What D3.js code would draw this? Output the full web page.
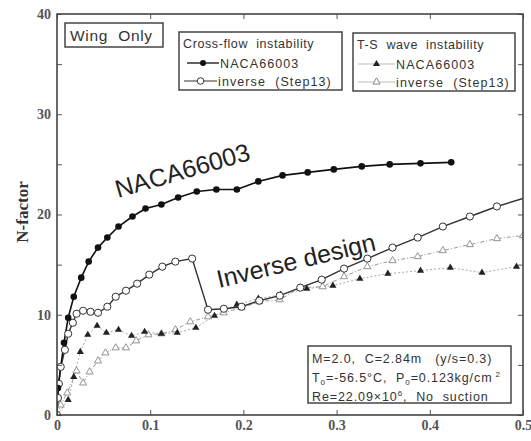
<!DOCTYPE html>
<html>
<head>
<meta charset="utf-8">
<script src="https://cdn.jsdelivr.net/npm/d3@7"></script>
<style>
body { margin: 0; background: #fff; }
svg text { font-family: "Liberation Sans", Arial, sans-serif; white-space: pre; }
</style>
</head>
<body>
<div id="chart"></div>
<script>
// cross-flow, NACA66003 (filled circles)
var cfNacaX = [0, 0.001, 0.0075, 0.012, 0.018, 0.026, 0.034, 0.044, 0.054, 0.066, 0.081, 0.095, 0.112, 0.13, 0.15, 0.171, 0.193, 0.216, 0.242, 0.269, 0.297, 0.327, 0.357, 0.39, 0.423];
var cfNacaN = [0, 2.7, 7.2, 9.7, 11.8, 13.7, 15.3, 16.7, 17.7, 18.8, 19.8, 20.6, 21.0, 21.7, 22.3, 22.5, 22.5, 23.3, 23.9, 24.2, 24.5, 24.8, 25.0, 25.1, 25.2];
// cross-flow, inverse (open circles)
var cfInvX = [0, 0.001, 0.002, 0.004, 0.0085, 0.012, 0.017, 0.021, 0.028, 0.036, 0.044, 0.054, 0.063, 0.074, 0.086, 0.099, 0.113, 0.127, 0.145, 0.162, 0.179, 0.198, 0.217, 0.239, 0.261, 0.284, 0.308, 0.333, 0.36, 0.387, 0.414, 0.443, 0.472, 0.5];
var cfInvN = [0, 1.7, 3.1, 4.8, 6.5, 8.1, 9.2, 10.1, 10.4, 10.3, 10.2, 10.8, 11.8, 12.4, 13.1, 14.0, 14.8, 15.3, 15.6, 10.5, 10.6, 10.8, 11.4, 11.9, 12.7, 13.5, 14.6, 15.6, 16.7, 17.7, 18.8, 19.8, 20.8, 21.6];
// T-S wave, NACA66003 (filled triangles)
var tsNacaX = [0, 0.012, 0.018, 0.025, 0.033, 0.043, 0.053, 0.066, 0.08, 0.094, 0.112, 0.129, 0.149, 0.169, 0.193, 0.216, 0.24, 0.268, 0.296, 0.325, 0.355, 0.39, 0.422, 0.456, 0.493];
var tsNacaN = [0, 1.5, 3.8, 6.3, 8.0, 8.9, 8.2, 8.5, 7.9, 8.3, 8.1, 8.2, 8.7, 9.9, 11.0, 11.6, 12.0, 12.6, 12.9, 13.6, 14.1, 14.4, 14.7, 14.2, 14.8];
// T-S wave, inverse (open triangles)
var tsInvX = [0, 0.004, 0.011, 0.021, 0.028, 0.035, 0.044, 0.052, 0.063, 0.074, 0.085, 0.098, 0.112, 0.127, 0.143, 0.162, 0.179, 0.198, 0.217, 0.239, 0.261, 0.285, 0.308, 0.333, 0.36, 0.387, 0.414, 0.443, 0.472, 0.5];
var tsInvN = [0, 1.0, 2.2, 4.4, 3.2, 4.3, 5.4, 6.2, 6.7, 6.7, 7.4, 8.0, 8.1, 8.5, 9.3, 9.8, 10.2, 10.7, 11.3, 11.5, 12.7, 12.8, 13.8, 14.8, 15.4, 15.8, 16.4, 17.0, 17.6, 17.9];

var xTicks = [0, 0.1, 0.2, 0.3, 0.4, 0.5];
var xTickLabels = ["0", "0.1", "0.2", "0.3", "0.4", "0.5"];
var yTicks = [0, 10, 20, 30, 40];
var yMinor = [5, 15, 25, 35];

var W = 531, H = 441;
var svg = d3.select("#chart").append("svg").attr("width", W).attr("height", H);

var x = d3.scaleLinear().domain([0, 0.5]).range([57, 523]);
var y = d3.scaleLinear().domain([0, 40]).range([415, 14]);

function pts(xs, ns) { return xs.map(function(v, i) { return [v, ns[i]]; }); }
var line = d3.line().x(function(d) { return x(d[0]); }).y(function(d) { return y(d[1]); });

svg.append("clipPath").attr("id", "clip").append("rect")
    .attr("x", 57).attr("y", 14).attr("width", 466).attr("height", 401);

var plot = svg.append("g").attr("clip-path", "url(#clip)");

// ticks (inward, all four sides)
var axisCol = "#555";
var axB = svg.append("g").attr("transform", "translate(0,415)")
    .call(d3.axisBottom(x).tickValues(xTicks).tickSize(-5).tickFormat(function(d, i) { return xTickLabels[i]; }).tickPadding(5));
var axT = svg.append("g").attr("transform", "translate(0,14)")
    .call(d3.axisTop(x).tickValues(xTicks).tickSize(-5).tickFormat(""));
var axL = svg.append("g").attr("transform", "translate(57,0)")
    .call(d3.axisLeft(y).tickValues(yTicks.concat(yMinor)).tickSize(-5)
        .tickFormat(function(d) { return yTicks.indexOf(d) >= 0 ? d : ""; }).tickPadding(6));
var axR = svg.append("g").attr("transform", "translate(523,0)")
    .call(d3.axisRight(y).tickValues(yTicks.concat(yMinor)).tickSize(-5).tickFormat(""));
[axB, axT, axL, axR].forEach(function(a) {
    a.select(".domain").remove();
    a.selectAll(".tick line").attr("stroke", axisCol).attr("stroke-width", 1);
    a.selectAll("text").attr("fill", "#555").style("font-family", "'Liberation Serif', 'Times New Roman', serif")
        .style("font-weight", "bold").style("font-size", "14px");
});

svg.append("rect").attr("x", 57).attr("y", 14).attr("width", 466).attr("height", 401)
    .attr("fill", "none").attr("stroke", "#444").attr("stroke-width", 1.6);

// T-S lines (gray, dotted)
plot.append("path").datum(pts(tsNacaX, tsNacaN)).attr("d", line)
    .attr("fill", "none").attr("stroke", "#aaa").attr("stroke-width", 1).attr("stroke-dasharray", "2,2");
plot.append("path").datum(pts(tsInvX, tsInvN)).attr("d", line)
    .attr("fill", "none").attr("stroke", "#999").attr("stroke-width", 1).attr("stroke-dasharray", "4,2,1,2");

var tri = d3.symbol().type(d3.symbolTriangle).size(22);
plot.selectAll(".tsInv").data(pts(tsInvX, tsInvN).filter(function(d) { return d[0] > 0; }))
    .enter().append("path").attr("d", tri)
    .attr("transform", function(d) { return "translate(" + x(d[0]) + "," + y(d[1]) + ")"; })
    .attr("fill", "#fff").attr("stroke", "#888").attr("stroke-width", 0.9);
plot.selectAll(".tsNaca").data(pts(tsNacaX, tsNacaN).filter(function(d) { return d[0] > 0; }))
    .enter().append("path").attr("d", tri)
    .attr("transform", function(d) { return "translate(" + x(d[0]) + "," + y(d[1]) + ")"; })
    .attr("fill", "#222");

// cross-flow lines (black, solid)
plot.append("path").datum(pts(cfInvX, cfInvN)).attr("d", line)
    .attr("fill", "none").attr("stroke", "#333").attr("stroke-width", 1.4);
plot.append("path").datum(pts(cfNacaX, cfNacaN)).attr("d", line)
    .attr("fill", "none").attr("stroke", "#111").attr("stroke-width", 1.6);

plot.selectAll(".cfInv").data(pts(cfInvX, cfInvN).filter(function(d) { return d[0] < 0.5; }))
    .enter().append("circle")
    .attr("cx", function(d) { return x(d[0]); }).attr("cy", function(d) { return y(d[1]); })
    .attr("r", 3.6).attr("fill", "#fff").attr("stroke", "#333").attr("stroke-width", 1);
plot.selectAll(".cfNaca").data(pts(cfNacaX, cfNacaN).filter(function(d) { return d[0] > 0; }))
    .enter().append("circle")
    .attr("cx", function(d) { return x(d[0]); }).attr("cy", function(d) { return y(d[1]); })
    .attr("r", 3.3).attr("fill", "#111");

// annotations
svg.append("text").attr("transform", "translate(118,198) rotate(-16)")
    .attr("font-size", 25).attr("fill", "#222").text("NACA66003");
svg.append("text").attr("transform", "translate(219,288) rotate(-13.5)")
    .attr("font-size", 25).attr("fill", "#222").text("Inverse design");

// y label
svg.append("text").attr("transform", "translate(28,212) rotate(-90)")
    .attr("text-anchor", "middle").style("font-family", "'Liberation Serif', 'Times New Roman', serif")
    .style("font-weight", "bold").attr("font-size", 17).attr("fill", "#333").text("N-factor");

// Wing Only box
svg.append("rect").attr("x", 65).attr("y", 23).attr("width", 98).attr("height", 24)
    .attr("fill", "#fff").attr("stroke", "#444").attr("stroke-width", 1.5);
svg.append("text").attr("x", 70).attr("y", 41).attr("font-size", 15.5).attr("letter-spacing", 0.7)
    .attr("fill", "#333").text("Wing  Only");

// legends
function legend(x0, y0, w, title, items) {
    var g = svg.append("g");
    g.append("rect").attr("x", x0).attr("y", y0).attr("width", w).attr("height", 58)
        .attr("fill", "#fff").attr("stroke", "#444").attr("stroke-width", 1.5);
    g.append("text").attr("x", x0 + 4).attr("y", y0 + 16).attr("font-size", 12.5)
        .attr("letter-spacing", 0.6).attr("fill", "#333").text(title);
    items.forEach(function(it, i) {
        var yy = y0 + 31 + i * 18;
        g.append("line").attr("x1", x0 + it.l1).attr("x2", x0 + it.l2).attr("y1", yy).attr("y2", yy)
            .attr("stroke", it.col).attr("stroke-width", it.sw);
        it.mark(g, x0 + (it.l1 + it.l2) / 2, yy);
        g.append("text").attr("x", x0 + it.l2 + 1).attr("y", yy + 5).attr("font-size", 12.5)
            .attr("letter-spacing", 1.1).attr("fill", "#333").text(it.label);
    });
}
legend(179, 32, 163, "Cross-flow  instability", [
    { label: "NACA66003", l1: 8, l2: 40, col: "#222", sw: 1.4,
      mark: function(g, cx, cy) { g.append("circle").attr("cx", cx).attr("cy", cy).attr("r", 3).attr("fill", "#111"); } },
    { label: "inverse  (Step13)", l1: 5, l2: 38, col: "#333", sw: 1.2,
      mark: function(g, cx, cy) { g.append("circle").attr("cx", cx).attr("cy", cy).attr("r", 3.3).attr("fill", "#fff").attr("stroke", "#333"); } }
]);
legend(353, 33, 162, "T-S  wave  instability", [
    { label: "NACA66003", l1: 5, l2: 42, col: "#bbb", sw: 1,
      mark: function(g, cx, cy) { g.append("path").attr("d", tri).attr("transform", "translate(" + cx + "," + cy + ")").attr("fill", "#222"); } },
    { label: "inverse  (Step13)", l1: 5, l2: 42, col: "#bbb", sw: 1,
      mark: function(g, cx, cy) { g.append("path").attr("d", tri).attr("transform", "translate(" + cx + "," + cy + ")").attr("fill", "#fff").attr("stroke", "#888"); } }
]);

// parameter box
svg.append("rect").attr("x", 308).attr("y", 346).attr("width", 203).attr("height", 57)
    .attr("fill", "#fff").attr("stroke", "#444").attr("stroke-width", 1.5);
var pg = svg.append("g").attr("font-size", 12.5).attr("fill", "#333").attr("letter-spacing", 0.9);
pg.append("text").attr("x", 312).attr("y", 363).text("M=2.0,  C=2.84m   (y/s=0.3)");
var t2 = pg.append("text").attr("x", 312).attr("y", 382);
t2.append("tspan").text("T");
t2.append("tspan").attr("font-size", 8).attr("dy", 3).text("0");
t2.append("tspan").attr("dy", -3).text("=-56.5°C,  P");
t2.append("tspan").attr("font-size", 8).attr("dy", 3).text("0");
t2.append("tspan").attr("dy", -3).text("=0.123kg/cm");
t2.append("tspan").attr("font-size", 8).attr("dy", -5).text(" 2");
var t3 = pg.append("text").attr("x", 312).attr("y", 401);
t3.append("tspan").text("Re=22.09×10");
t3.append("tspan").attr("font-size", 8).attr("dy", -5).text("6");
t3.append("tspan").attr("dy", 5).text(",  No  suction");
</script>
</body>
</html>
